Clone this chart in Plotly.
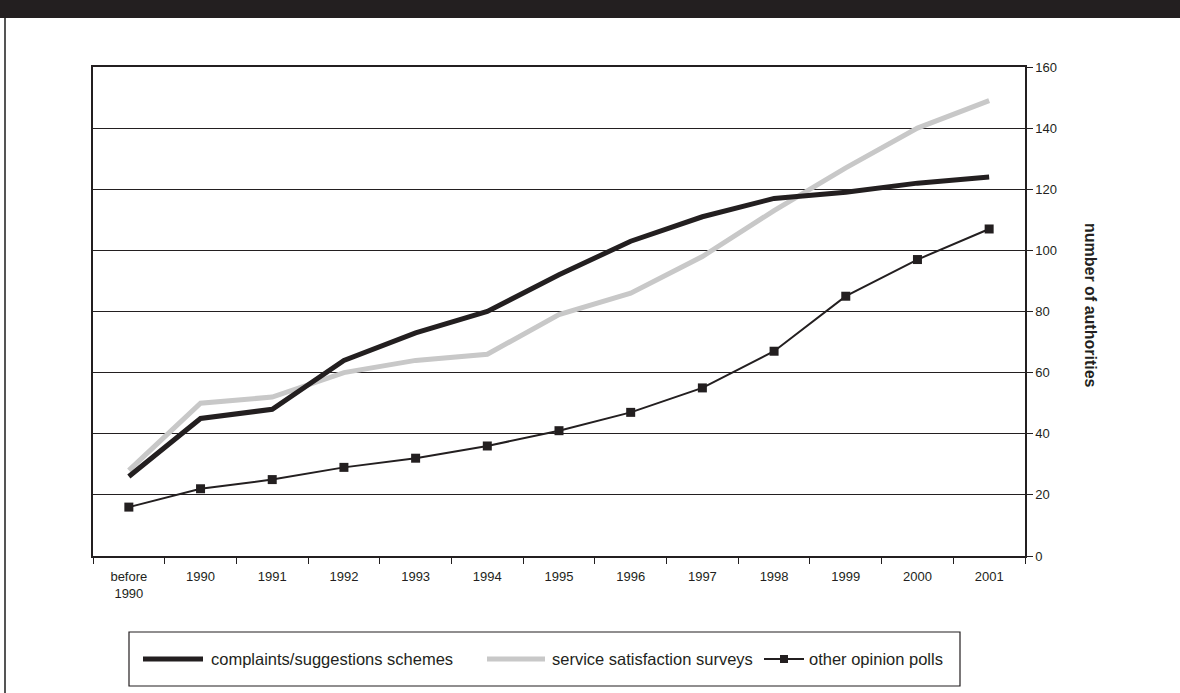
import plotly.graph_objects as go

# Number of authorities using each consultation method, cumulative by year
years = ["before<br>1990", "1990", "1991", "1992", "1993", "1994", "1995",
         "1996", "1997", "1998", "1999", "2000", "2001"]
complaints = [26, 45, 48, 64, 73, 80, 92, 103, 111, 117, 119, 122, 124]
satisfaction = [28, 50, 52, 60, 64, 66, 79, 86, 98, 113, 127, 140, 149]
opinion_polls = [16, 22, 25, 29, 32, 36, 41, 47, 55, 67, 85, 97, 107]

series_names = ["complaints/suggestions schemes", "service satisfaction surveys",
                "other opinion polls"]
y_ticks = [0, 20, 40, 60, 80, 100, 120, 140, 160]

INK = "#231f20"
GREY = "#c8c8c8"
W, H = 1180, 693
L, R, T, B = 93, 1025, 67, 556          # plot area in pixels


def px(x):
    return (x - L) / (R - L)


def py(y):
    return (B - y) / (B - T)


fig = go.Figure()
fig.add_trace(go.Scatter(x=years, y=satisfaction, mode="lines", name=series_names[1],
                         line=dict(color=GREY, width=5)))
fig.add_trace(go.Scatter(x=years, y=complaints, mode="lines", name=series_names[0],
                         line=dict(color=INK, width=5)))
fig.add_trace(go.Scatter(x=years, y=opinion_polls, mode="lines+markers", name=series_names[2],
                         line=dict(color=INK, width=2),
                         marker=dict(symbol="square", size=9, color=INK)))

shapes = [
    # dark band along the top and thin frame on the left
    dict(type="rect", xref="paper", yref="paper", x0=px(0), x1=px(W), y0=py(0), y1=py(18),
         fillcolor=INK, line=dict(width=0), layer="above"),
    dict(type="line", xref="paper", yref="paper", x0=px(5), x1=px(5), y0=py(18), y1=py(H),
         line=dict(color="#555", width=2)),
    # legend box
    dict(type="rect", xref="paper", yref="paper", x0=px(129), x1=px(960), y0=py(632), y1=py(686),
         line=dict(color=INK, width=1.2), fillcolor="white"),
    dict(type="line", xref="paper", yref="paper", x0=px(143), x1=px(203), y0=py(659), y1=py(659),
         line=dict(color=INK, width=5)),
    dict(type="line", xref="paper", yref="paper", x0=px(487), x1=px(545), y0=py(659), y1=py(659),
         line=dict(color=GREY, width=5)),
    dict(type="line", xref="paper", yref="paper", x0=px(764), x1=px(804), y0=py(659), y1=py(659),
         line=dict(color=INK, width=2)),
    dict(type="rect", xref="paper", yref="paper", x0=px(780), x1=px(788), y0=py(655), y1=py(663),
         fillcolor=INK, line=dict(width=0)),
]

legend_font = dict(family="Liberation Sans, Arial", size=16.5, color=INK)
annotations = [
    dict(xref="paper", yref="paper", x=px(x0), y=py(659), text=t, showarrow=False,
         xanchor="left", yanchor="middle", font=legend_font)
    for x0, t in zip([209, 550, 807], series_names)
]
annotations.append(dict(xref="paper", yref="paper", x=px(1091), y=py(305),
                        text="<b>number of authorities</b>", textangle=90, showarrow=False,
                        xanchor="center", yanchor="middle",
                        font=dict(family="Liberation Sans, Arial", size=16, color=INK)))

fig.update_layout(
    width=W, height=H,
    margin=dict(l=L, r=W - R, t=T, b=H - B),
    paper_bgcolor="white", plot_bgcolor="white",
    showlegend=False,
    font=dict(family="Liberation Sans, Arial", size=13, color=INK),
    shapes=shapes, annotations=annotations,
    xaxis=dict(type="category", range=[-0.5, len(years) - 0.5], showgrid=False,
               showline=True, linecolor=INK, linewidth=1.5, mirror=True,
               ticks="outside", tickson="boundaries", ticklen=6,
               tickcolor=INK, tickfont=dict(size=13, color=INK), ticklabelstandoff=8),
    yaxis=dict(side="right", range=[0, 160], tickvals=y_ticks, showgrid=True,
               gridcolor=INK, gridwidth=1, showline=True, linecolor=INK, linewidth=1.5,
               mirror=True, ticks="outside", ticklen=6, tickcolor=INK,
               tickfont=dict(size=13, color=INK), zeroline=False),
)

fig.write_html("out.html")
